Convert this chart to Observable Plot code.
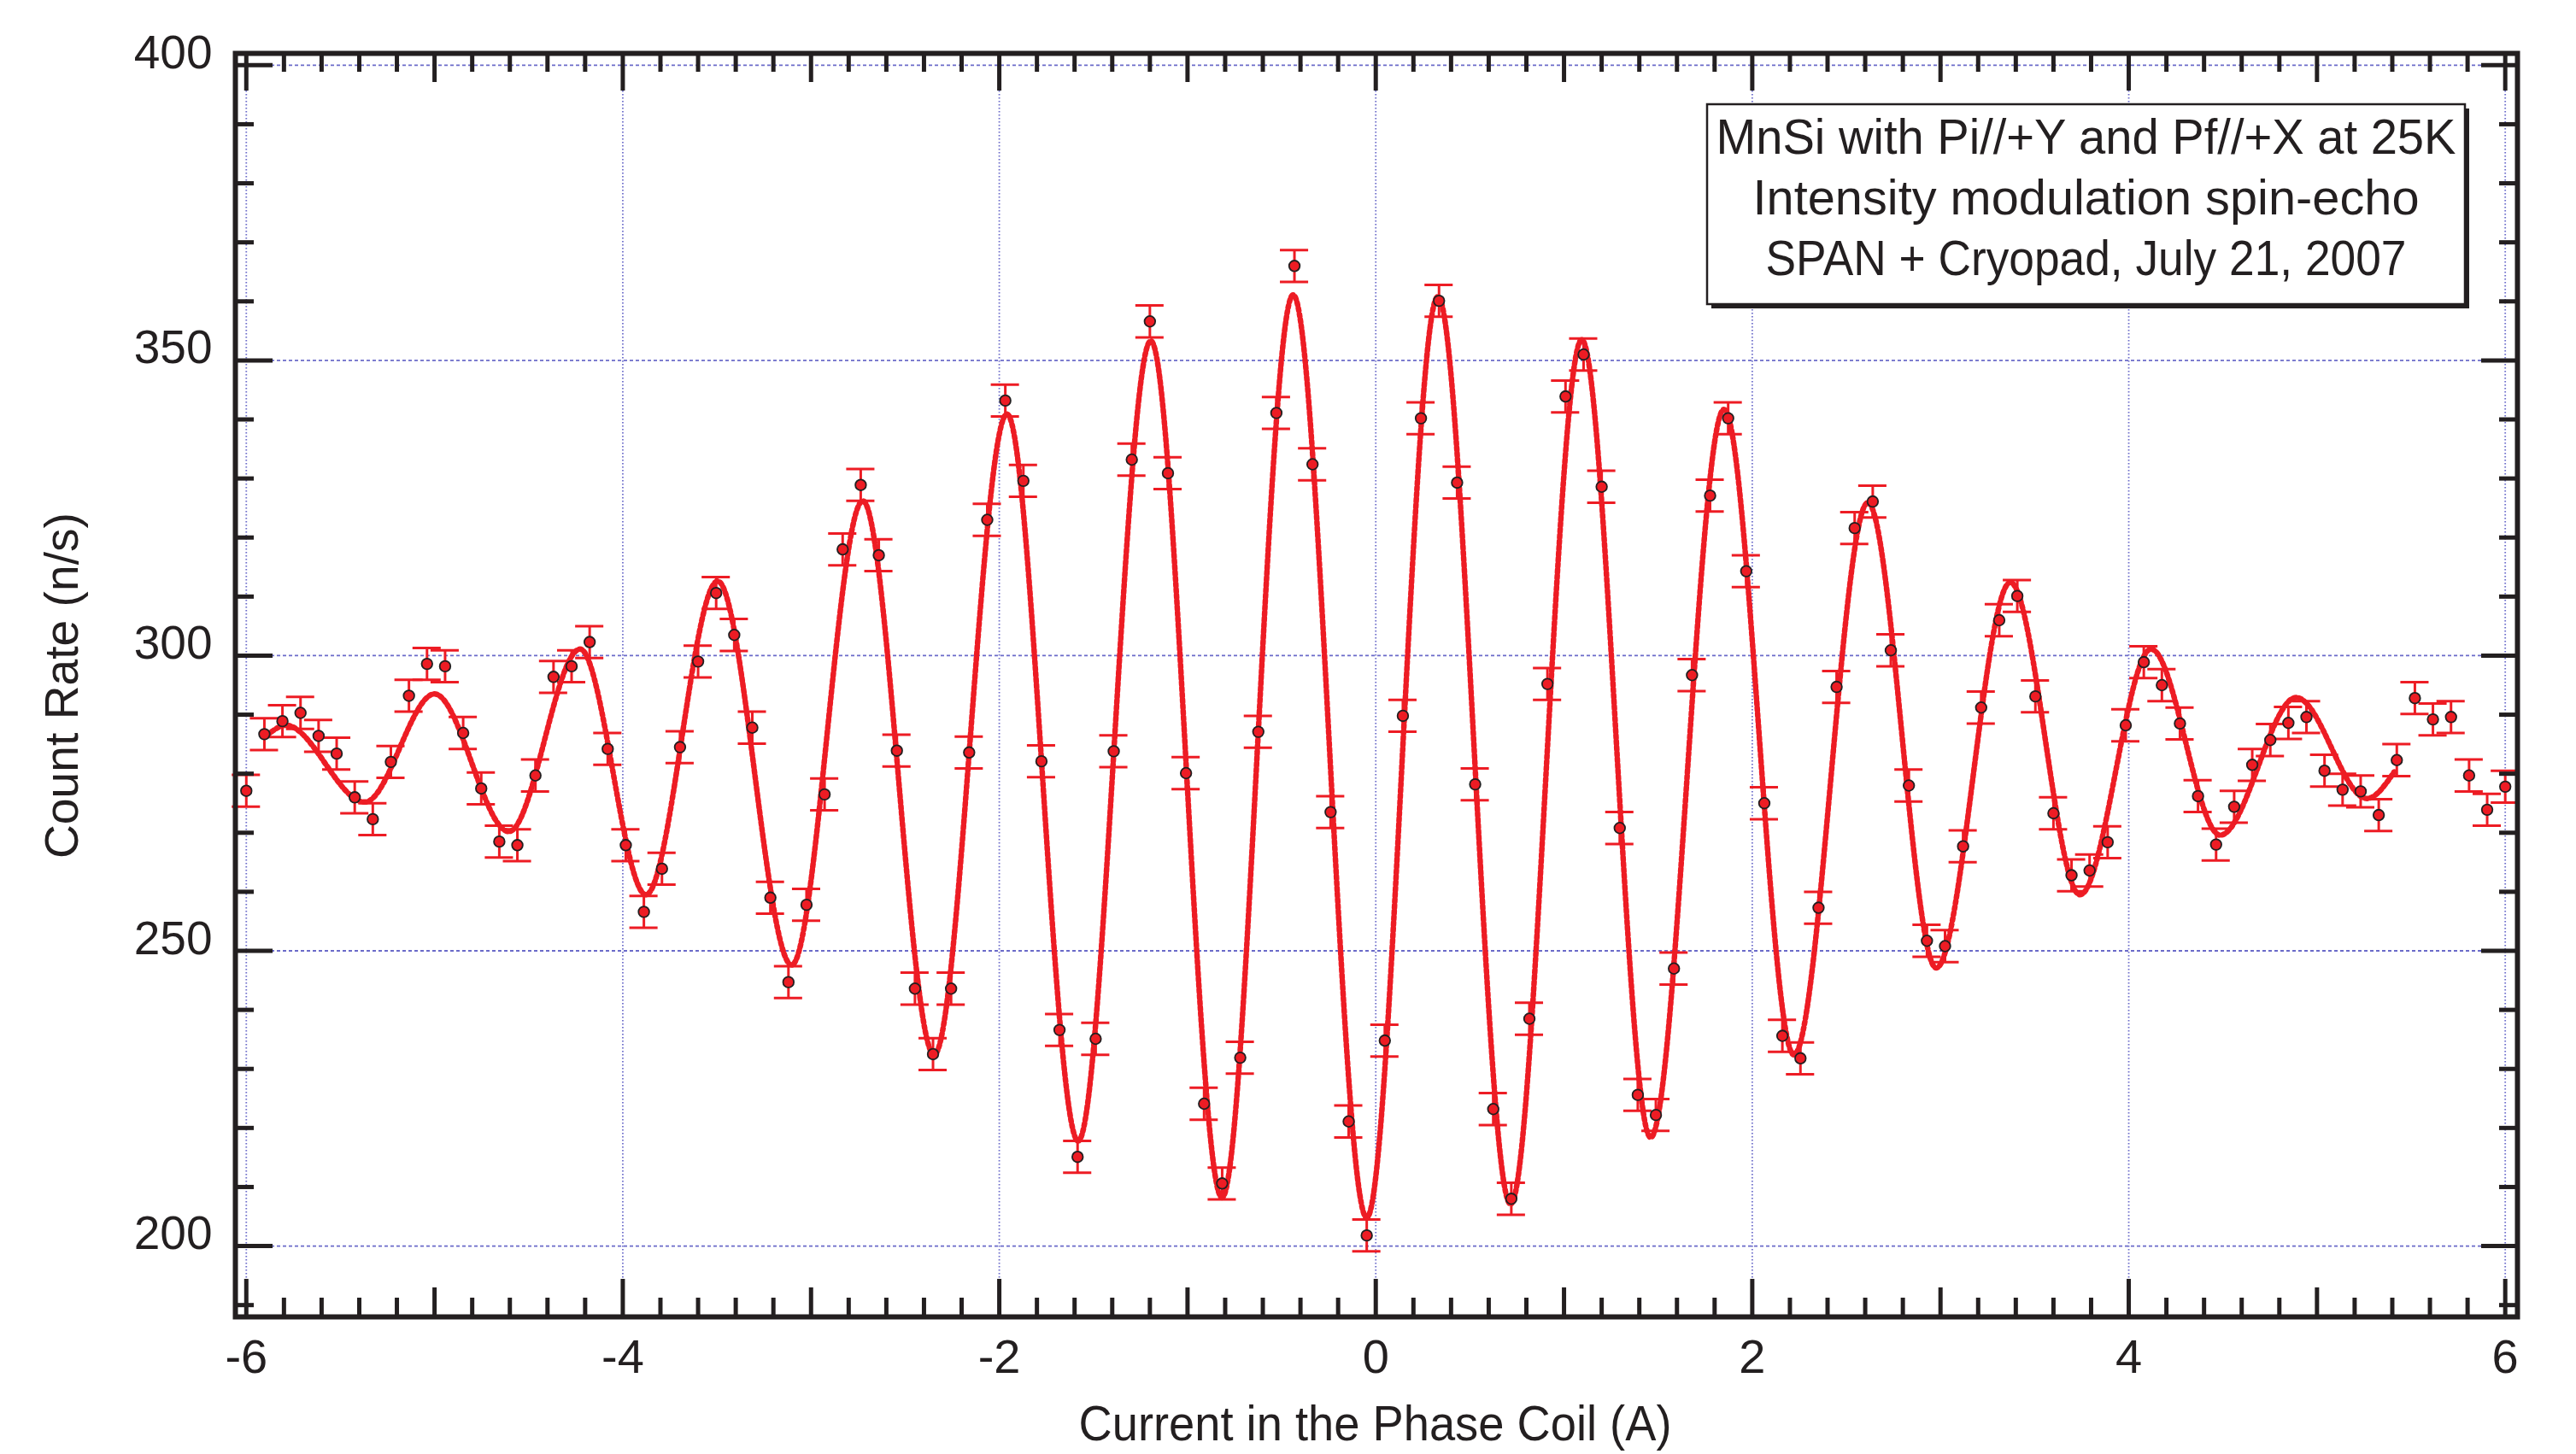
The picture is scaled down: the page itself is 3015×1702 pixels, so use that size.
<!DOCTYPE html>
<html><head><meta charset="utf-8">
<script src="https://cdn.jsdelivr.net/npm/d3@7"></script>
<script src="https://cdn.jsdelivr.net/npm/@observablehq/plot@0.6"></script>
<style>
html,body{margin:0;padding:0;background:#fff;}
#chart{width:3015px;height:1702px;}
</style></head><body><div id="chart"></div>
<script>
// ---- data ----
const current = [-6,-5.904,-5.808,-5.712,-5.616,-5.52,-5.424,-5.328,-5.232,-5.136,-5.04,-4.944,-4.848,-4.752,-4.656,-4.56,-4.464,-4.368,-4.272,-4.176,-4.08,-3.984,-3.888,-3.792,-3.696,-3.6,-3.504,-3.408,-3.312,-3.216,-3.12,-3.024,-2.928,-2.832,-2.736,-2.64,-2.544,-2.448,-2.352,-2.256,-2.16,-2.064,-1.968,-1.872,-1.776,-1.68,-1.584,-1.488,-1.392,-1.296,-1.2,-1.104,-1.008,-0.912,-0.816,-0.72,-0.624,-0.528,-0.432,-0.336,-0.24,-0.144,-0.048,0.048,0.144,0.24,0.336,0.432,0.528,0.624,0.72,0.816,0.912,1.008,1.104,1.2,1.296,1.392,1.488,1.584,1.68,1.776,1.872,1.968,2.064,2.16,2.256,2.352,2.448,2.544,2.64,2.736,2.832,2.928,3.024,3.12,3.216,3.312,3.408,3.504,3.6,3.696,3.792,3.888,3.984,4.08,4.176,4.272,4.368,4.464,4.56,4.656,4.752,4.848,4.944,5.04,5.136,5.232,5.328,5.424,5.52,5.616,5.712,5.808,5.904,6];
const countRate = [277.1,286.7,288.9,290.3,286.4,283.4,276.0,272.3,282.0,293.2,298.6,298.2,286.9,277.5,268.5,267.9,279.7,296.4,298.2,302.3,284.2,267.9,256.6,263.9,284.5,299.0,310.6,303.5,287.8,259.0,244.7,257.8,276.5,318.0,328.9,317.0,283.9,243.6,232.5,243.6,283.6,323.0,343.2,329.6,282.1,236.6,215.1,235.1,283.8,333.2,356.6,330.9,280.1,224.1,210.6,231.9,287.1,341.1,366.0,332.4,273.5,221.1,201.8,234.8,289.8,340.2,360.1,329.3,278.2,223.2,208.0,238.5,295.2,343.9,351.0,328.6,270.8,225.6,222.2,247.0,296.7,327.1,340.2,314.3,275.0,235.6,231.8,257.3,294.7,321.6,326.1,300.9,278.0,251.7,250.8,267.7,291.2,306.0,310.1,293.1,273.3,262.8,263.6,268.4,288.2,298.9,295.0,288.5,276.2,268.0,274.4,281.5,285.7,288.6,289.6,280.5,277.3,277.0,273.0,282.3,292.8,289.2,289.6,279.7,273.9,277.8];
const errorHalf = 2.7;
// fitted curve, read at its turning points
const fitCurrent = [-5.89,-5.79,-5.37,-5.0,-4.605,-4.227,-3.877,-3.496,-3.103,-2.725,-2.346,-1.959,-1.581,-1.195,-0.817,-0.439,-0.048,0.33,0.716,1.094,1.46,1.85,2.221,2.614,2.977,3.371,3.741,4.119,4.486,4.89,5.265,5.41];
const fitRate = [286.5,288.2,275.2,293.5,270.2,301.1,259.5,312.6,247.6,326.2,232.4,340.9,217.8,353.3,208.2,361.1,204.8,360.8,207.1,353.5,218.4,341.7,232.4,325.9,247.1,312.4,259.5,301.1,269.6,292.9,275.8,280.3];
const xTickValues = [-6,-4,-2,0,2,4,6];
const xMidTicks = [-5,-3,-1,1,3,5];
const yTickValues = [200,250,300,350,400];
const xLabel = "Current in the Phase Coil (A)";
const yLabel = "Count Rate (n/s)";
const boxLines = ["MnSi with Pi//+Y and Pf//+X at 25K","Intensity modulation spin-echo","SPAN + Cryopad, July 21, 2007"];

// ---- layout / style ----
const W = 3015, H = 1702;
const mL = 275, mR = 69, mT = 62, mB = 161;
const innerW = W - mL - mR, innerH = H - mT - mB;
const red = "#ed1c24", ink = "#231f20", gridCol = "#6b6bc9";
const font = "'Liberation Sans', Arial, sans-serif";
const capHalf = 0.075;

const pts = current.map((x, i) => ({x, y: countRate[i]}));
const fit = fitCurrent.map((x, i) => ({x, y: fitRate[i]}));
const yMinor = d3.range(190, 401, 10).filter(v => v % 50 !== 0);
const xMinor = d3.range(-30, 31).map(k => k / 5).filter(v => Math.abs(v - Math.round(v)) > 1e-9);

const tickW = 5;
const chart = Plot.plot({
  width: W, height: H,
  marginLeft: mL, marginRight: mR, marginTop: mT, marginBottom: mB,
  style: {background: "#fff", color: ink, fontFamily: font, overflow: "visible"},
  x: {domain: [-6.058, 6.065]},
  y: {domain: [188, 402]},
  marks: [
    Plot.ruleY(yTickValues, {stroke: gridCol, strokeWidth: 1.8, strokeDasharray: "4,3"}),
    Plot.ruleX(xTickValues, {stroke: gridCol, strokeWidth: 1.8, strokeDasharray: "1.6,2.4"}),
    Plot.ruleX(pts, {x: "x", y1: d => d.y - errorHalf, y2: d => d.y + errorHalf, stroke: red, strokeWidth: 3}),
    Plot.ruleY(pts, {y: d => d.y + errorHalf, x1: d => d.x - capHalf, x2: d => d.x + capHalf, stroke: red, strokeWidth: 3}),
    Plot.ruleY(pts, {y: d => d.y - errorHalf, x1: d => d.x - capHalf, x2: d => d.x + capHalf, stroke: red, strokeWidth: 3}),
    Plot.line(fit, {x: "x", y: "y", curve: "monotone-x", stroke: red, strokeWidth: 6.5, strokeDasharray: "3.2,3.6"}),
    Plot.dot(pts, {x: "x", y: "y", r: 6.3, fill: red, stroke: ink, strokeWidth: 1.8}),
    Plot.frame({stroke: ink, strokeWidth: 6}),
    // left & right ticks (inward)
    Plot.tickY(yTickValues, {y: d => d, stroke: ink, strokeWidth: tickW, insetRight: innerW - 44}),
    Plot.tickY(yMinor, {y: d => d, stroke: ink, strokeWidth: tickW, insetRight: innerW - 22}),
    Plot.tickY(yTickValues, {y: d => d, stroke: ink, strokeWidth: tickW, insetLeft: innerW - 42}),
    Plot.tickY(yMinor, {y: d => d, stroke: ink, strokeWidth: tickW, insetLeft: innerW - 21}),
    // top & bottom ticks (inward)
    Plot.tickX(xTickValues, {x: d => d, stroke: ink, strokeWidth: tickW, insetBottom: innerH - 44}),
    Plot.tickX(xMidTicks, {x: d => d, stroke: ink, strokeWidth: tickW, insetBottom: innerH - 34}),
    Plot.tickX(xMinor, {x: d => d, stroke: ink, strokeWidth: tickW, insetBottom: innerH - 22}),
    Plot.tickX(xTickValues, {x: d => d, stroke: ink, strokeWidth: tickW, insetTop: innerH - 44}),
    Plot.tickX(xMidTicks, {x: d => d, stroke: ink, strokeWidth: tickW, insetTop: innerH - 34}),
    Plot.tickX(xMinor, {x: d => d, stroke: ink, strokeWidth: tickW, insetTop: innerH - 22}),
    Plot.axisY({ticks: yTickValues, anchor: "left", tickSize: 0, tickPadding: 27, fontSize: 55, dy: -14, tickFormat: d => String(d), label: null, fill: ink}),
    Plot.axisX({ticks: xTickValues, anchor: "bottom", tickSize: 0, tickPadding: 26, fontSize: 56, tickFormat: d => String(d), label: null, fill: ink})
  ]
});
document.getElementById("chart").appendChild(chart);

// ---- annotations: axis titles and the info box ----
const svg = d3.select(chart);
svg.append("text").text(xLabel)
  .attr("x", mL + innerW / 2 - 1).attr("y", H - 37)
  .attr("text-anchor", "middle").attr("dominant-baseline", "central")
  .attr("font-family", font).attr("font-size", 58).attr("fill", ink)
  .attr("textLength", 694).attr("lengthAdjust", "spacingAndGlyphs");
svg.append("text").text(yLabel)
  .attr("transform", `translate(71,${mT + innerH / 2 + 1}) rotate(-90)`)
  .attr("text-anchor", "middle").attr("dominant-baseline", "central")
  .attr("font-family", font).attr("font-size", 56).attr("fill", ink)
  .attr("textLength", 405).attr("lengthAdjust", "spacingAndGlyphs");

const bx = W - mR - 61 - 887, by = mT + 60, bw = 887, bh = 234;
const g = svg.append("g");
g.append("rect").attr("x", bx + 5).attr("y", by + 5).attr("width", bw).attr("height", bh).attr("fill", ink);
g.append("rect").attr("x", bx).attr("y", by).attr("width", bw).attr("height", bh).attr("fill", "#fff").attr("stroke", ink).attr("stroke-width", 2.5);
const widths = [866, 780, 750];
boxLines.forEach((s, i) => {
  g.append("text").text(s)
    .attr("x", bx + bw / 2).attr("y", by + 58 + i * 71)
    .attr("text-anchor", "middle")
    .attr("font-family", font).attr("font-size", 58).attr("fill", ink)
    .attr("textLength", widths[i]).attr("lengthAdjust", "spacingAndGlyphs");
});
</script></body></html>
